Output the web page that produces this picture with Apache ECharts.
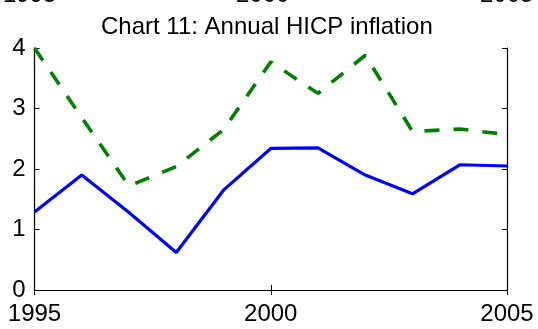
<!DOCTYPE html>
<html>
<head>
<meta charset="utf-8">
<script src="https://cdn.jsdelivr.net/npm/echarts@6/dist/echarts.min.js"></script>
<style>
  html, body { margin: 0; padding: 0; background: #fff; }
  #chart { width: 538px; height: 329px; }
</style>
</head>
<body>
<div id="chart"></div>
<script>
// Annual HICP inflation, per cent
const years = [1995, 1996, 1997, 1998, 1999, 2000, 2001, 2002, 2003, 2004, 2005];
const solidSeries = [1.29, 1.90, 1.28, 0.62, 1.65, 2.34, 2.35, 1.90, 1.59, 2.07, 2.05];
const dashedSeries = [4.00, 2.85, 1.72, 2.04, 2.65, 3.77, 3.25, 3.88, 2.62, 2.66, 2.57];
const xTicks = [1995, 2000, 2005];
const yTicks = [0, 1, 2, 3, 4];
// year labels of the panel above, cut off at the top edge
const upperPanelLabels = ['1995', '2000', '2005'];

const FONT = '"Liberation Sans", Arial, Helvetica, sans-serif';

const pairs = (vals) => years.map((y, i) => [y, vals[i]]);

const chart = echarts.init(document.getElementById('chart'), null, { renderer: 'canvas' });

const tickCommon = { show: true, inside: true, length: 5, lineStyle: { color: '#000', width: 1 } };
const lineCommon = { show: true, lineStyle: { color: '#000', width: 1.2 } };

chart.setOption({
  animation: false,
  backgroundColor: '#fff',
  title: {
    text: 'Chart 11: Annual HICP inflation',
    left: 96,
    top: 10,
    textStyle: { fontFamily: FONT, fontSize: 24, fontWeight: 'normal', color: '#000' }
  },
  graphic: upperPanelLabels.map((t, i) => ({
    type: 'text',
    left: [3, 236, 480][i],
    top: -16.5,
    style: { text: t, font: '24px ' + FONT, fill: '#000' }
  })),
  grid: { left: 34.5, right: 31, top: 48, bottom: 39, containLabel: false },
  xAxis: [
    {
      type: 'value', position: 'bottom', min: xTicks[0], max: xTicks[xTicks.length - 1], interval: 5,
      axisLine: lineCommon, axisTick: tickCommon, splitLine: { show: false },
      axisLabel: { margin: 12, fontFamily: FONT, fontSize: 24, color: '#000', formatter: (v) => String(v) }
    },
    {
      type: 'value', position: 'top', min: xTicks[0], max: xTicks[xTicks.length - 1], interval: 5,
      axisLine: lineCommon, axisTick: tickCommon, splitLine: { show: false }, axisLabel: { show: false }
    }
  ],
  yAxis: [
    {
      type: 'value', position: 'left', min: yTicks[0], max: yTicks[yTicks.length - 1], interval: 1,
      axisLine: lineCommon, axisTick: tickCommon, splitLine: { show: false },
      axisLabel: { margin: 9, fontFamily: FONT, fontSize: 24, color: '#000' }
    },
    {
      type: 'value', position: 'right', min: yTicks[0], max: yTicks[yTicks.length - 1], interval: 1,
      axisLine: lineCommon, axisTick: tickCommon, splitLine: { show: false }, axisLabel: { show: false }
    }
  ],
  series: [
    {
      type: 'line', data: pairs(solidSeries), symbol: 'none', z: 3,
      lineStyle: { color: '#0000ff', width: 3.2 }
    },
    {
      type: 'line', data: pairs(dashedSeries), symbol: 'none', z: 2,
      lineStyle: { color: '#008000', width: 3.6, type: [15, 14] }
    }
  ]
});
</script>
</body>
</html>
